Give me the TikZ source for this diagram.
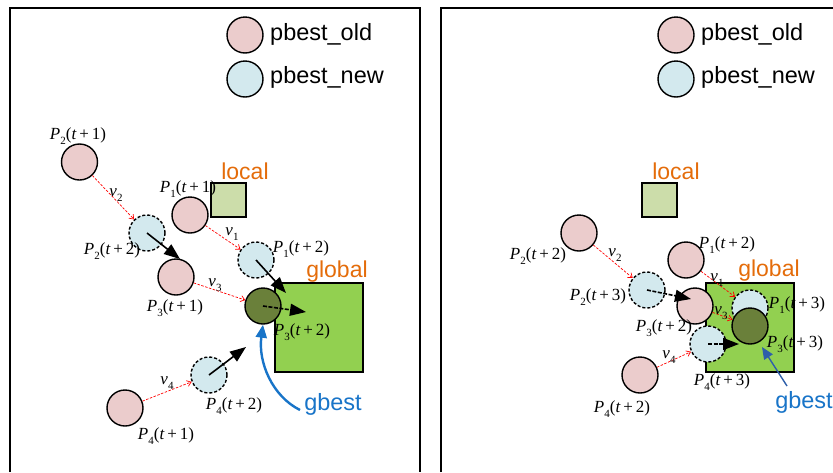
\documentclass[tikz,border=0pt]{standalone}
\usepackage{fontspec}
\setmainfont{Liberation Serif}
\setsansfont{Liberation Sans}
\usetikzlibrary{arrows.meta}

\definecolor{pinkfill}{RGB}{235,204,204}
\definecolor{bluefill}{RGB}{211,233,238}
\definecolor{gbestfill}{RGB}{106,128,58}
\definecolor{globalfill}{RGB}{146,208,80}
\definecolor{localfill}{RGB}{204,221,170}
\definecolor{orangetxt}{RGB}{228,108,10}
\definecolor{bluetxt}{RGB}{24,116,200}
\definecolor{bluearrow}{RGB}{46,95,170}

% subscript set low, as in equation-editor output
\newcommand{\lowsub}[1]{\raisebox{-4.5pt}{\fontsize{11}{12}\selectfont #1}}
\newcommand{\plab}[2]{\textit{P}\lowsub{#1}(\textit{t}\,+\,#2)}
\newcommand{\vlab}[1]{\textit{v}\lowsub{#1}}

\tikzset{
  particle/.style={circle, minimum size=36pt, inner sep=0pt, line width=1.4pt, draw=black},
  pold/.style={particle, fill=pinkfill},
  pnew/.style={particle, fill=bluefill, dash pattern=on 3pt off 2pt},
  pnewkey/.style={particle, fill=bluefill},
  pgbest/.style={particle, fill=gbestfill},
  region/.style={draw=black, line width=1.4pt, inner sep=0pt},
  vel/.style={red, dash pattern=on 2.5pt off 1.5pt, line width=0.7pt, -{Straight Barb[length=4pt,width=6pt]}},
  move/.style={line width=1.6pt, -{Triangle[length=16pt,width=12pt]}},
  movedash/.style={move, dash pattern=on 4pt off 1.5pt},
  lbl/.style={inner sep=0pt, font=\fontsize{17}{20}\selectfont},
  keytxt/.style={font=\sffamily\fontsize{23.5}{26}\selectfont, anchor=west, inner sep=0pt},
  zone/.style={font=\sffamily\fontsize{23}{26}\selectfont, text=orangetxt, inner sep=0pt},
  gbtxt/.style={font=\sffamily\fontsize{23.5}{26}\selectfont, text=bluetxt, inner sep=0pt},
  frame/.style={line width=1.4pt},
}

\begin{document}
\begin{tikzpicture}[x=1pt, y=-1pt]
\useasboundingbox (0,0) rectangle (833,472);

% ---------- frames ----------
\draw[frame] (10,472) -- (10,8) -- (420,8) -- (420,472);
\draw[frame] (441,472) -- (441,8) -- (833,8);

% ---------- left panel ----------
% legend
\node[pold] (lkeyold) at (245,35) {};
\node[pnewkey] (lkeynew) at (245,79) {};
\node[keytxt] (lkeyoldt) at (270,34) {pbest\_old};
\node[keytxt] (lkeynewt) at (270,77) {pbest\_new};

% regions
\node[region, fill=localfill, minimum width=35pt, minimum height=34pt] (llocal) at (228.5,200) {};
\node[region, fill=globalfill, minimum width=88pt, minimum height=89pt] (lglobal) at (319,327.5) {};
\node[zone] (llocalt) at (245,171) {local};
\node[zone] (lglobalt) at (337,272) {global};

% particles
\node[pold] (l21) at (79.5,162) {};
\node[pnew] (l22) at (147,233) {};
\node[pold] (l31) at (176,277) {};
\node[pold] (l11) at (190,215) {};
\node[pnew] (l12) at (256,260) {};
\node[pgbest] (lg) at (263,306) {};
\node[pnew] (l42) at (209,375) {};
\node[pold] (l41) at (125,408) {};

% velocities
\draw[vel] (l21) -- (l22);
\draw[vel] (l11) -- (l12);
\draw[vel] (l31) -- (lg);
\draw[vel] (l41) -- (l42);

% moves
\coordinate (la2) at (180,259);
\coordinate (la1) at (286,293);
\coordinate (la3) at (306,312);
\coordinate (la4) at (246,347);
\draw[move] (l22.center) -- (la2);
\draw[move] (l12.center) -- (la1);
\draw[movedash] (lg.center) -- (la3);
\draw[move] (l42.center) -- (la4);

% gbest pointer
\node[gbtxt] (lgbt) at (333,404) {gbest};
\coordinate (lgbfoot) at (300,410);
\draw[bluetxt, line width=2.4pt, -{Triangle[length=13pt,width=11pt]}]
  (lgbfoot) .. controls (272,396) and (258,362) .. (lg.south);

% labels
\node[lbl] (l21t) at (78,136) {\plab{2}{1}};
\node[lbl] (l11t) at (188,189) {\plab{1}{1}};
\node[lbl] (l22t) at (112,251) {\plab{2}{2}};
\node[lbl] (l31t) at (175,308) {\plab{3}{1}};
\node[lbl] (l12t) at (301,249) {\plab{1}{2}};
\node[lbl] (l32t) at (302,332) {\plab{3}{2}};
\node[lbl] (l42t) at (234,406) {\plab{4}{2}};
\node[lbl] (l41t) at (166,436) {\plab{4}{1}};
\node[lbl] (lv2) at (116,195) {\vlab{2}};
\node[lbl] (lv1) at (232,234) {\vlab{1}};
\node[lbl] (lv3) at (215,285) {\vlab{3}};
\node[lbl] (lv4) at (167,383) {\vlab{4}};

% ---------- right panel ----------
% legend
\node[pold] (rkeyold) at (676,35) {};
\node[pnewkey] (rkeynew) at (676,79) {};
\node[keytxt] (rkeyoldt) at (701,34) {pbest\_old};
\node[keytxt] (rkeynewt) at (701,77) {pbest\_new};

% regions
\node[region, fill=localfill, minimum width=35pt, minimum height=34pt] (rlocal) at (659.5,200) {};
\node[region, fill=globalfill, minimum width=88pt, minimum height=89pt] (rglobal) at (750,327.5) {};
\node[zone] (rlocalt) at (676,171) {local};
\node[zone] (rglobalt) at (769,271) {global};

% particles
\node[pold] (r22) at (579,233) {};
\node[pnew] (r23) at (647,290) {};
\node[pold] (r12) at (686,260) {};
\node[pold] (r32) at (695,306) {};
\node[pold] (r42) at (640,375) {};
\node[pnew] (r43) at (708,344) {};
\node[pnew] (r13) at (750,308) {};
\coordinate (ra1) at (750,324);
\draw[line width=1.5pt, -{Triangle[length=10pt,width=8pt]}] (r13.center) -- (ra1);
\node[pgbest] (rg) at (750,326) {};

% velocities
\draw[vel] (r22) -- (r23);
\draw[vel] (r12) -- (r13);
\draw[vel] (r32) -- (rg);
\draw[vel] (r42) -- (r43);

% moves
\coordinate (ra2) at (691,299);
\coordinate (ra4) at (739,344);
\draw[movedash] (r23.center) -- (ra2);
\draw[movedash] (r43.center) -- (ra4);

% gbest pointer
\node[gbtxt] (rgbt) at (804,402) {gbest};
\coordinate (rgbfoot) at (787,386);
\coordinate (rgbtip) at (762,347);
\draw[bluearrow, line width=1.4pt, -{Triangle[length=12pt,width=10pt]}] (rgbfoot) -- (rgbtip);

% labels
\node[lbl] (r22t) at (538,256) {\plab{2}{2}};
\node[lbl] (r23t) at (598,297) {\plab{2}{3}};
\node[lbl] (r12t) at (727,245) {\plab{1}{2}};
\node[lbl] (r32t) at (664,328) {\plab{3}{2}};
\node[lbl] (r13t) at (797,305) {\plab{1}{3}};
\node[lbl] (r33t) at (795,344) {\plab{3}{3}};
\node[lbl] (r43t) at (722,382) {\plab{4}{3}};
\node[lbl] (r42t) at (622,409) {\plab{4}{2}};
\node[lbl] (rv2) at (615,255) {\vlab{2}};
\node[lbl] (rv1) at (717,280) {\vlab{1}};
\node[lbl] (rv3) at (721,313) {\vlab{3}};
\node[lbl] (rv4) at (669,357) {\vlab{4}};
\end{tikzpicture}
\end{document}
